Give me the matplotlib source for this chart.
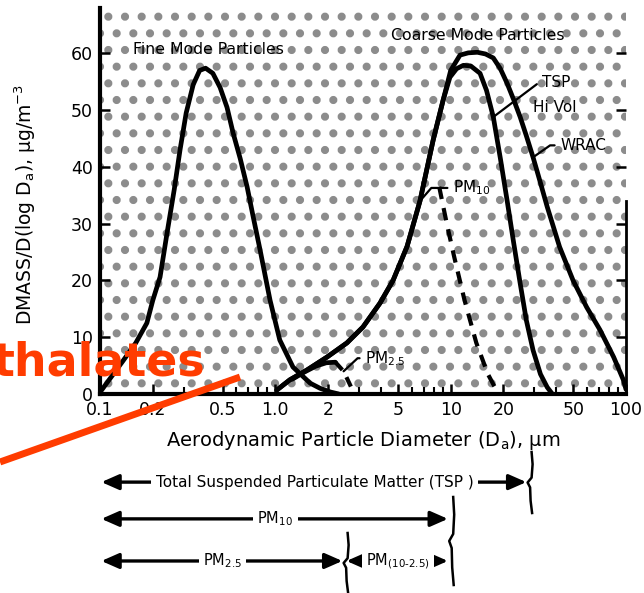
# PARTICLE SIZE DISTRIBUTION CHART (FINE / COARSE MODE, SAMPLER CUTS)
# ---------------------------------------------------------------------------
import numpy as np
import matplotlib
matplotlib.use('Agg')
import matplotlib.pyplot as plt
import matplotlib.transforms as mtransforms
from matplotlib.patches import Rectangle
from matplotlib.lines import Line2D
from matplotlib.ticker import LogLocator, NullFormatter

# DATA ======================================================================

# Fine mode curve (diameter um, DMASS/DlogDa ug/m3).
FINE_D = [0.1, 0.135, 0.16, 0.185, 0.2, 0.22, 0.241, 0.265, 0.286, 0.31,
          0.34, 0.37, 0.40, 0.44, 0.484, 0.53, 0.574, 0.63, 0.69, 0.75,
          0.818, 0.933, 1.06, 1.26, 1.58, 1.8, 2.06, 2.3]
FINE_V = [0.3, 5.8, 9.0, 12.5, 16.5, 20.6, 28.3, 36.0, 43.0, 49.5,
          54.5, 57.0, 57.4, 56.5, 54.0, 50.5, 46.0, 41.5, 36.5, 31.0,
          25.4, 16.5, 9.5, 4.75, 1.9, 1.0, 0.35, 0.0]

# Coarse mode rising side (shared by TSP Hi Vol and WRAC).
COARSE_RISE_D = [1.02, 1.21, 1.51, 1.97, 2.56, 3.16, 3.95, 4.69, 5.64,
                 6.68, 7.94, 9.06]
COARSE_RISE_V = [0.7, 2.5, 4.2, 6.5, 9.0, 11.8, 16.0, 20.0, 26.0,
                 34.0, 44.7, 51.8]

# TSP Hi Vol falling side.
TSP_FALL_D = [9.9, 10.8, 11.8, 13.0, 14.7, 16.0, 17.5, 19.2, 21.0, 22.9,
              24.9, 27.0, 29.5, 32.5, 35.5, 38.0]
TSP_FALL_V = [55.8, 57.3, 57.9, 57.8, 56.5, 53.5, 48.8, 41.5, 34.0, 26.5,
              19.5, 13.0, 7.7, 3.5, 1.2, 0.0]

# WRAC falling side.
WRAC_FALL_D = [10.0, 11.3, 12.6, 14.2, 15.8, 17.5, 19.2, 21.0, 22.9, 24.9,
               27.0, 29.5, 32.5, 35.5, 41.8, 49.9, 59.6, 71.0, 85.0, 96.5,
               100.0]
WRAC_FALL_V = [57.0, 59.7, 60.1, 60.2, 59.9, 59.2, 57.3, 54.7, 51.8, 48.8,
               45.5, 41.7, 37.2, 33.0, 25.9, 20.0, 15.3, 11.3, 6.5, 2.5,
               0.8]

# PM10 sampler cut (dashed).
PM10_CUT_D = [8.6, 9.5, 10.5, 12.0, 14.0, 16.3, 18.5]
PM10_CUT_V = [36.5, 30.0, 24.0, 16.5, 9.0, 3.5, 0.3]

# PM2.5 sampler (solid part, then dashed cut).
PM25_SOLID_D = [1.25, 1.45, 1.7, 1.95, 2.2]
PM25_SOLID_V = [2.6, 3.8, 4.9, 5.5, 5.6]
PM25_CUT_D = [2.2, 2.45, 2.65, 2.8]
PM25_CUT_V = [5.6, 4.0, 1.8, 0.2]

# Axis ticks.
X_TICKS = [0.1, 0.2, 0.5, 1.0, 2, 5, 10, 20, 50, 100]
X_TICK_LABELS = ['0.1', '0.2', '0.5', '1.0', '2', '5', '10', '20', '50', '100']
Y_TICKS = [0, 10, 20, 30, 40, 50, 60]

# Size fraction ranges drawn under the chart.
RANGE_LABELS = ['Total Suspended Particulate Matter (TSP )', 'PM$_{10}$',
                'PM$_{2.5}$', 'PM$_{(10\u20102.5)}$']
RANGE_LO = [0.1, 0.1, 0.1, 2.5]
RANGE_HI = [28, 10, 2.5, 10]
RANGE_ROW = [0, 1, 2, 2]
BRACE_D = [28, 10, 2.5]

# FIGURE SET UP =============================================================

plt.rcParams['font.family'] = ['DejaVu Sans']
plt.rcParams['hatch.linewidth'] = 3.4

fig = plt.figure(figsize=(6.44, 5.93), dpi=100)
ax = fig.add_axes([0.1553, 0.3356, 0.8168, 0.6509])
ax.set_xscale('log')
ax.set_xlim(0.1, 100)
ax.set_ylim(0, 68)

# Stippled background.
ax.add_patch(Rectangle((0, 0), 1, 1, transform=ax.transAxes,
                       facecolor='white', edgecolor='#8c8c8c', hatch='.',
                       linewidth=0, zorder=0.5))

# PLOT CURVES ---------------------------------------------------------------

LW = 3.4
line_kw = dict(color='black', lw=LW, solid_joinstyle='round',
               solid_capstyle='round', zorder=3)
ax.plot(FINE_D, FINE_V, **line_kw)
ax.plot(COARSE_RISE_D + TSP_FALL_D, COARSE_RISE_V + TSP_FALL_V, **line_kw)
ax.plot(COARSE_RISE_D + WRAC_FALL_D, COARSE_RISE_V + WRAC_FALL_V, **line_kw)
ax.plot(PM25_SOLID_D, PM25_SOLID_V, **line_kw)
ax.plot(PM10_CUT_D, PM10_CUT_V, color='black', lw=3.0,
        linestyle=(0, (3, 2.2)), zorder=3)
ax.plot(PM25_CUT_D, PM25_CUT_V, color='black', lw=3.0,
        linestyle=(0, (2.5, 2)), zorder=3)

# AXES STYLE ----------------------------------------------------------------

ax.set_xticks(X_TICKS)
ax.set_xticklabels(X_TICK_LABELS)
ax.xaxis.set_minor_locator(LogLocator(base=10, subs=np.arange(2, 10)))
ax.xaxis.set_minor_formatter(NullFormatter())
ax.set_yticks(Y_TICKS)

ax.tick_params(which='major', direction='in', length=7, width=1.8,
               labelsize=12.5, pad=5, right=True)
ax.tick_params(which='minor', direction='in', length=5, width=1.5)
ax.tick_params(axis='y', which='minor', left=False, right=False)

ax.spines['top'].set_visible(False)
ax.spines['left'].set_linewidth(3.0)
ax.spines['bottom'].set_linewidth(3.0)
ax.spines['right'].set_linewidth(2.0)
ax.spines['right'].set_bounds(0, 34)

ax.set_xlabel('Aerodynamic Particle Diameter (D$_{\\rm a}$), \u03bcm',
              fontsize=14, va='top')
ax.xaxis.set_label_coords(0.5, -0.09)
ax.set_ylabel('DMASS/D(log D$_{\\rm a}$), \u03bcg/m$^{-3}$', fontsize=13.5)
ax.yaxis.set_label_coords(-0.118, 0.49)

# CURVE LABELS --------------------------------------------------------------

ax.text(0.413, 60.7, 'Fine Mode Particles', fontsize=11.3, ha='center',
        va='center', zorder=4)
ax.text(14.3, 63.2, 'Coarse Mode Particles', fontsize=11.3, ha='center',
        va='center', zorder=4)

lead = dict(arrowstyle='-', lw=1.6, color='black', shrinkA=2, shrinkB=0,
            relpos=(0, 0.5))
ax.annotate('TSP', xy=(TSP_FALL_D[6], TSP_FALL_V[6]), xytext=(33.2, 54.8),
            fontsize=11, va='center', ha='left', zorder=4,
            arrowprops=dict(lead, connectionstyle='angle,angleA=0,angleB=37,rad=0'))
ax.text(29.5, 50.4, 'Hi Vol', fontsize=11, va='center', ha='left', zorder=4)
ax.annotate('WRAC', xy=(WRAC_FALL_D[11], WRAC_FALL_V[11]), xytext=(42.1, 43.8),
            fontsize=11, va='center', ha='left', zorder=4,
            arrowprops=dict(lead, connectionstyle='angle,angleA=0,angleB=35,rad=0'))
ax.annotate('PM$_{10}$', xy=(COARSE_RISE_D[9], COARSE_RISE_V[9]),
            xytext=(10.3, 36.3), fontsize=11, va='center', ha='left',
            zorder=4,
            arrowprops=dict(lead, connectionstyle='angle,angleA=0,angleB=49,rad=0'))
ax.annotate('PM$_{2.5}$', xy=(PM25_CUT_D[1], PM25_CUT_V[1]),
            xytext=(3.25, 6.3), fontsize=11, va='center', ha='left',
            zorder=4,
            arrowprops=dict(lead, connectionstyle='angle,angleA=0,angleB=43,rad=0'))

# SIZE FRACTION ARROWS BELOW CHART ------------------------------------------

row_y = [0.187, 0.125, 0.054]  # Figure fraction heights of the rows.
trans = mtransforms.blended_transform_factory(ax.transData, fig.transFigure)

for label, lo, hi, row in zip(RANGE_LABELS, RANGE_LO, RANGE_HI, RANGE_ROW):
    y = row_y[row]
    ax.annotate('', xy=(lo, y), xytext=(hi, y), xycoords=trans,
                textcoords=trans, annotation_clip=False,
                arrowprops=dict(arrowstyle='<|-|>,head_length=0.75,head_width=0.33',
                                lw=2.4, color='black', mutation_scale=14,
                                shrinkA=2, shrinkB=1))
    ax.text(np.sqrt(lo * hi), y, label, transform=trans, ha='center',
            va='center', fontsize=11 if row == 0 else 10.5, clip_on=False,
            zorder=5, bbox=dict(boxstyle='square,pad=0.3', fc='white',
                                ec='none'))

# Braces marking the cut points (drawn in display pixels).
brace_span = [(452, 513), (497, 585), (533, 593)]  # Pixel rows from top.
brace_dx = [2.5, 3.5, 2.5, -1.5, 1.0, 1.5, 3.0]
brace_fr = [0.0, 0.2, 0.42, 0.5, 0.58, 0.8, 1.0]
H = fig.get_figheight() * fig.dpi
for d, (top, bot) in zip(BRACE_D, brace_span):
    x0 = ax.transData.transform((d, 1))[0]
    xs = [x0 + dx for dx in brace_dx]
    ys = [H - (top + f * (bot - top)) for f in brace_fr]
    fig.add_artist(Line2D(xs, ys, transform=mtransforms.IdentityTransform(),
                          color='black', lw=1.8, solid_joinstyle='round'))

# OVERLAY ------------------------------------------------------------------

fig.add_artist(Line2D([0.0, 0.3727], [0.2209, 0.3642], transform=fig.transFigure,
                      color='#ff3c00', lw=5.0, solid_capstyle='butt', zorder=10))
fig.text(0.3183, 0.366, 'thalates', color='#ff3c00', fontsize=33,
         fontweight='bold', ha='right', va='baseline', zorder=10)

fig.savefig('out.png', dpi=100)
# ----------------------------------------------------------------------------79
